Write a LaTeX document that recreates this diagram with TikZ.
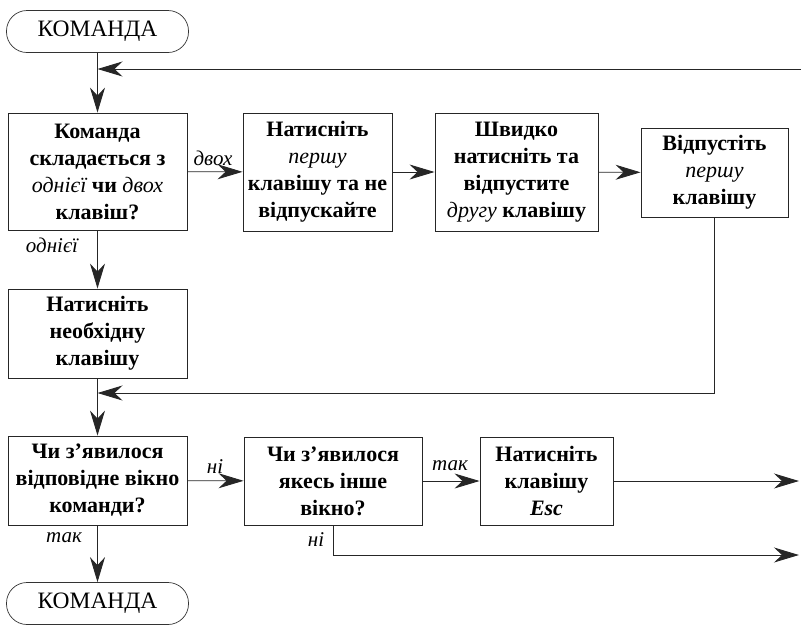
\documentclass[tikz,border=0pt]{standalone}
\usepackage{fontspec}
\setmainfont{Liberation Serif}
\usetikzlibrary{arrows.meta}
% light italic word inside a bold box
\newcommand\kw[1]{{\mdseries\itshape #1}}
\begin{document}
\begin{tikzpicture}[x=1pt,y=-1pt,
  box/.style={draw=black!85, line width=0.9pt, align=center, inner sep=0pt,
    font=\fontsize{22}{27}\selectfont\bfseries},
  term/.style={draw=black!80, line width=0.7pt, rounded corners=20.5pt,
    minimum width=182pt, minimum height=42pt, inner sep=0pt,
    font=\fontsize{23.5}{27}\selectfont},
  flow/.style={line width=0.9pt, draw=black!85,
    -{Stealth[length=25pt,width=15pt,inset=8pt]}},
  lbl/.style={font=\fontsize{21}{24}\selectfont\itshape, inner sep=0pt},
]
\useasboundingbox (0,0) rectangle (801,625);

% terminals
\node[term] (t1) at (97.5,31.5) {КОМАНДА};
\node[term] (t2) at (97.5,603.5) {КОМАНДА};

% process and decision boxes
\node[box, minimum width=179pt, minimum height=117pt] (b1) at (97.5,171.5)
  {Команда\\складається з\\\kw{однієї} чи \kw{двох}\\клавіш?};
\node[box, minimum width=149pt, minimum height=118pt] (b2) at (317.5,172)
  {Натисніть\\\kw{першу}\\клавішу та не\\відпускайте};
\node[box, minimum width=163pt, minimum height=118pt] (b3) at (516.5,172)
  {Швидко\\натисніть та\\відпустите\\\kw{другу} клавішу};
\node[box, minimum width=147pt, minimum height=89pt] (b4) at (714.5,172.5)
  {Відпустіть\\\kw{першу}\\клавішу};
\node[box, minimum width=179pt, minimum height=89pt] (b5) at (97.5,333.5)
  {Натисніть\\необхідну\\клавішу};
\node[box, minimum width=179pt, minimum height=89pt] (b6) at (97.5,480.5)
  {Чи з’явилося\\відповідне вікно\\команди?};
\node[box, minimum width=178pt, minimum height=88pt] (b7) at (333,481)
  {Чи з’явилося\\якесь інше\\вікно?};
\node[box, minimum width=133pt, minimum height=88pt] (b8) at (546.5,481)
  {Натисніть\\клавішу\\\textit{Esc}};

% junction points and free ends
\coordinate (j1) at (97.5,69);
\coordinate (r1) at (801,69);
\coordinate (j2) at (97.5,393);
\coordinate (r2) at (799,481);
\coordinate (r3) at (799,555);

% connectors
\draw[flow] (t1) -- (b1);
\draw[flow] (r1) -- (j1);
\draw[flow] (b1) -- (b2);
\draw[flow] (b2) -- (b3);
\draw[flow] (b3) -- (b4);
\draw[flow] (b1) -- (b5);
\draw[flow] (b4.south) |- (j2);
\draw[flow] (b5) -- (b6);
\draw[flow] (b6) -- (b7);
\draw[flow] (b7) -- (b8);
\draw[flow] (b8) -- (r2);
\draw[flow] (b7.south) |- (r3);
\draw[flow] (b6) -- (t2);

% branch labels
\node[lbl] (l1) at (213,158) {двох};
\node[lbl] (l2) at (52,245) {однієї};
\node[lbl] (l3) at (215,467) {ні};
\node[lbl] (l4) at (450,466) {так};
\node[lbl] (l5) at (64,538) {так};
\node[lbl] (l6) at (316,540) {ні};
\end{tikzpicture}
\end{document}
